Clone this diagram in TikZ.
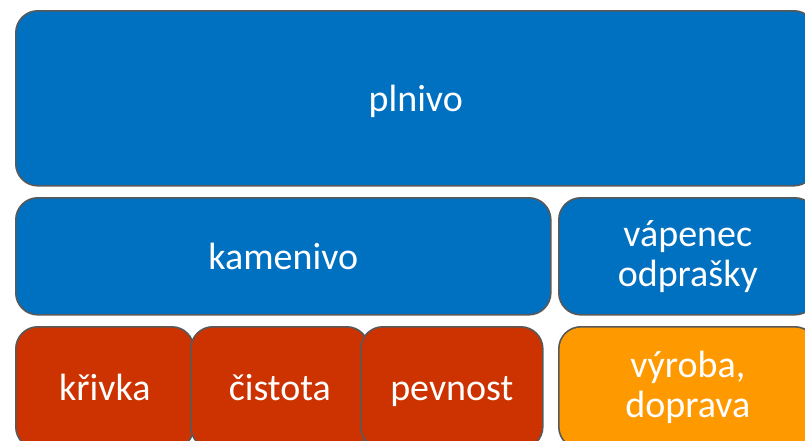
\documentclass[tikz,border=0pt]{standalone}
\usepackage{fontspec}
\setmainfont{Carlito}
\usepackage{tikz}
\definecolor{plblue}{HTML}{0070C0}
\definecolor{plred}{HTML}{CC3300}
\definecolor{plorange}{HTML}{FF9900}
\definecolor{plframe}{HTML}{595959}

\begin{document}
\begin{tikzpicture}[x=1pt, y=-1pt,
    box/.style={draw=plframe, line width=1.6pt, rounded corners=22pt,
        text=white, align=center, anchor=north west, inner sep=0pt,
        text height=30pt, text depth=4pt,
        font=\fontsize{38}{40}\selectfont},
    twoline/.style={text height=, text depth=},
    bluebox/.style={box, fill=plblue},
    redbox/.style={box, fill=plred},
    orangebox/.style={box, fill=plorange}]
    \path[use as bounding box, clip] (0,0) rectangle (805,440);

    \node[bluebox, minimum width=800pt, minimum height=175pt] (plnivo) at (15,10) {plnivo};
    \node[bluebox, minimum width=535pt, minimum height=117pt] (kamenivo) at (15,197) {kamenivo};
    \node[bluebox, twoline, minimum width=258pt, minimum height=117pt] (vapenec) at (558,197) {v\'apenec\\odpra\v{s}ky};

    \node[redbox, minimum width=178pt, minimum height=122pt] (krivka) at (15,326) {k\v{r}ivka};
    \node[redbox, minimum width=178pt, minimum height=122pt] (cistota) at (190,326) {\v{c}istota};
    \node[redbox, minimum width=182pt, minimum height=122pt] (pevnost) at (360,326) {pevnost};
    \node[orangebox, twoline, minimum width=258pt, minimum height=122pt] (vyroba) at (558,326) {v\'yroba,\\doprava};
\end{tikzpicture}
\end{document}
